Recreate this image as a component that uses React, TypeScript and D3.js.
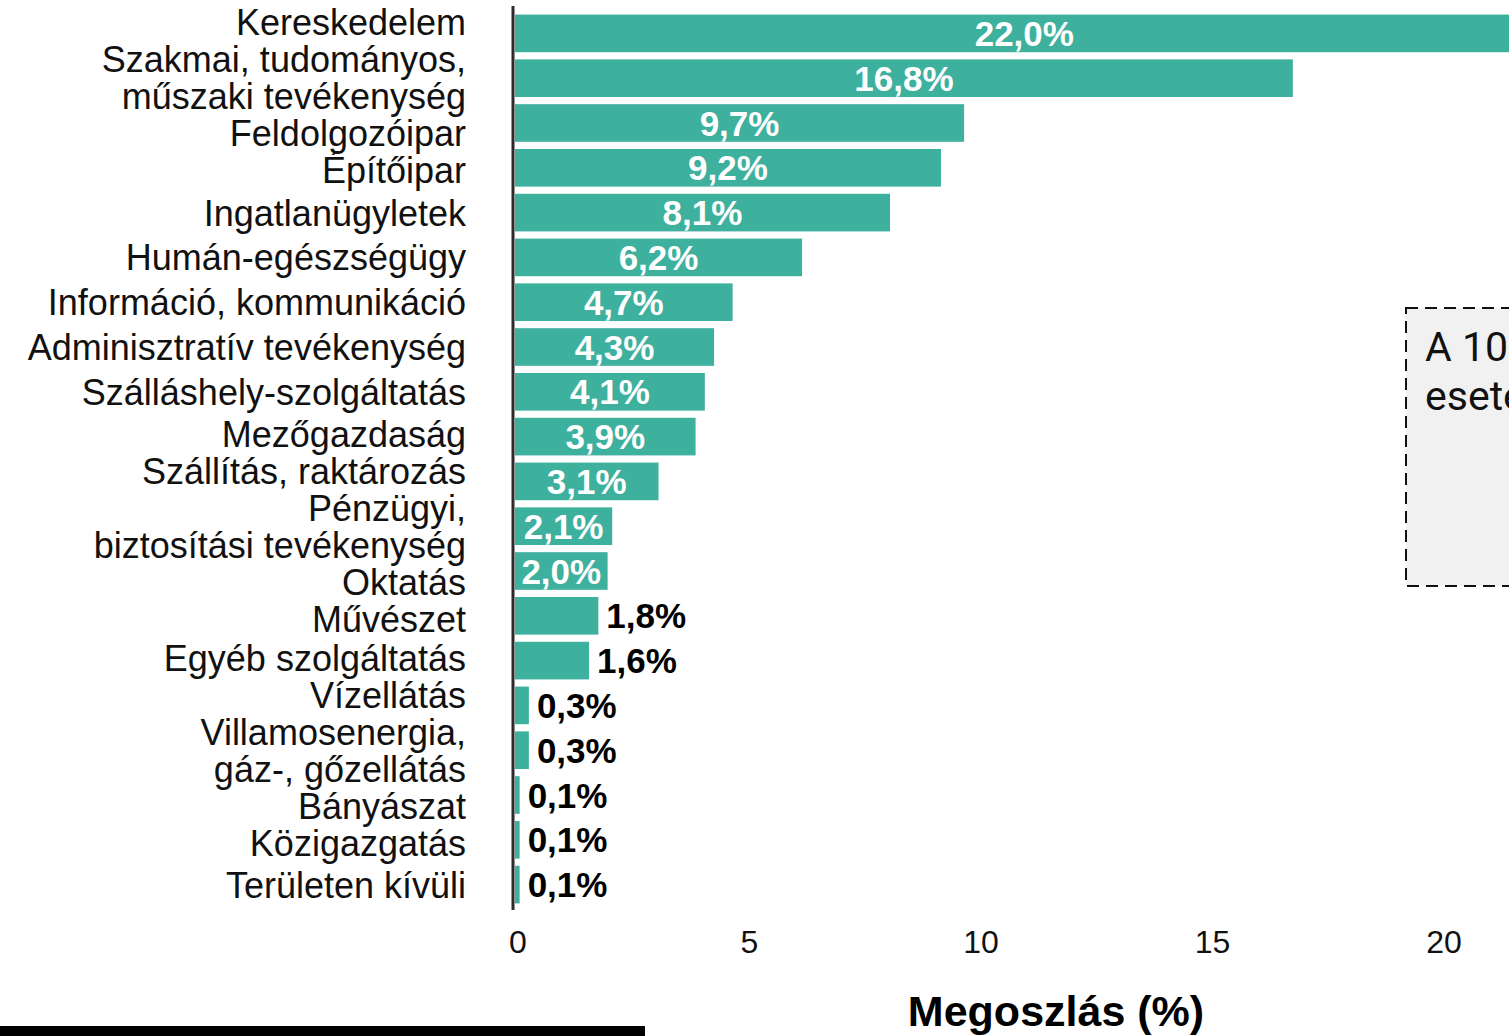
import React from "react";
import * as d3 from "d3";

const categories: string[][] = [
  ["Kereskedelem"],
  ["Szakmai, tudományos,", "műszaki tevékenység"],
  ["Feldolgozóipar"],
  ["Építőipar"],
  ["Ingatlanügyletek"],
  ["Humán-egészségügy"],
  ["Információ, kommunikáció"],
  ["Adminisztratív tevékenység"],
  ["Szálláshely-szolgáltatás"],
  ["Mezőgazdaság"],
  ["Szállítás, raktározás"],
  ["Pénzügyi,", "biztosítási tevékenység"],
  ["Oktatás"],
  ["Művészet"],
  ["Egyéb szolgáltatás"],
  ["Vízellátás"],
  ["Villamosenergia,", "gáz-, gőzellátás"],
  ["Bányászat"],
  ["Közigazgatás"],
  ["Területen kívüli"],
];

const values: number[] = [
  22.0, 16.8, 9.7, 9.2, 8.1, 6.2, 4.7, 4.3, 4.1, 3.9, 3.1, 2.1, 2.0, 1.8, 1.6,
  0.3, 0.3, 0.1, 0.1, 0.1,
];

const xTicks: number[] = [0, 5, 10, 15, 20];
const xTitle = "Megoszlás (%)";
const noteLines: string[] = ["A 10 leggyakoribb ágazat", "esetében"];

const W = 1509;
const H = 1036;
const BAR = "#3eb09e";
const LABEL_FONT = "'Liberation Sans', Arial, sans-serif";
const LH = 37;

// 1D collision relaxation of label blocks around their bar centres
function layoutLabels(centers: number[], heights: number[], gap: number): number[] {
  const c = centers.slice();
  for (let it = 0; it < 300; it++) {
    let moved = false;
    for (let i = 1; i < c.length; i++) {
      const need = (heights[i - 1] + heights[i]) / 2 + gap;
      const d = c[i] - c[i - 1];
      if (d < need - 0.01) {
        const o = (need - d) / 2;
        c[i - 1] -= o;
        c[i] += o;
        moved = true;
      }
    }
    if (!moved) break;
  }
  return c;
}

export default function App() {
  const x = d3.scaleLinear().domain([0, 20]).range([515, 515 + 20 * 46.3]);
  const idx = categories.map((_, i) => String(i));
  const y = d3
    .scaleBand<string>()
    .domain(idx)
    .range([11, 907])
    .paddingInner(0.16)
    .paddingOuter(0.08);
  const bw = y.bandwidth();
  const fmt = (v: number) => v.toFixed(1).replace(".", ",") + "%";

  const barCenters = idx.map((k) => (y(k) as number) + bw / 2);
  const labelCenters = layoutLabels(
    barCenters,
    categories.map((l) => l.length * LH),
    0
  );

  return (
    <svg
      width={W}
      height={H}
      style={{ position: "absolute", left: 0, top: 0, overflow: "hidden", background: "#fff" }}
    >
      {/* note box */}
      <rect
        x={1406}
        y={308}
        width={200}
        height={278}
        fill="#f1f1f1"
        stroke="#111"
        strokeWidth={2}
        strokeDasharray="12 7"
      />
      {noteLines.map((t, i) => (
        <text
          key={t}
          x={1425}
          y={361 + i * 49}
          fontFamily="Roboto, 'Noto Sans', sans-serif"
          fontWeight={400}
          fontSize={41}
          fill="#111"
        >
          {t}
        </text>
      ))}

      {/* bars */}
      {values.map((v, i) => {
        const y0 = y(String(i)) as number;
        return (
          <rect key={"b" + i} x={x(0)} y={y0} width={x(v) - x(0)} height={bw} fill={BAR} />
        );
      })}

      {/* value labels */}
      {values.map((v, i) => {
        const yc = barCenters[i];
        const inside = v >= 2.0;
        return (
          <text
            key={"v" + i}
            x={inside ? (x(0) + x(v)) / 2 : x(v) + 8}
            y={yc}
            dy="0.36em"
            textAnchor={inside ? "middle" : "start"}
            fontFamily={LABEL_FONT}
            fontWeight={700}
            fontSize={35}
            fill={inside ? "#fff" : "#000"}
          >
            {fmt(v)}
          </text>
        );
      })}

      {/* category labels */}
      {categories.map((lines, i) => {
        const yc = labelCenters[i];
        const start = yc - ((lines.length - 1) * LH) / 2;
        return (
          <text
            key={"c" + i}
            x={466}
            textAnchor="end"
            fontFamily={LABEL_FONT}
            fontSize={36}
            fill="#111"
          >
            {lines.map((l, j) => (
              <tspan key={j} x={466} y={start + j * LH} dy="0.36em">
                {l}
              </tspan>
            ))}
          </text>
        );
      })}

      {/* y axis line */}
      <line x1={513} x2={513} y1={6} y2={910} stroke="#2b2b2b" strokeWidth={3} />

      {/* x ticks */}
      {xTicks.map((t) => (
        <text
          key={"t" + t}
          x={x(t) + 3}
          y={953}
          textAnchor="middle"
          fontFamily={LABEL_FONT}
          fontSize={32}
          fill="#111"
        >
          {t}
        </text>
      ))}

      {/* x title */}
      <text
        x={1056}
        y={1026}
        textAnchor="middle"
        fontFamily={LABEL_FONT}
        fontWeight={700}
        fontSize={43}
        fill="#000"
      >
        {xTitle}
      </text>

      {/* bottom black rule */}
      <rect x={0} y={1026} width={645} height={10} fill="#000" />
    </svg>
  );
}
